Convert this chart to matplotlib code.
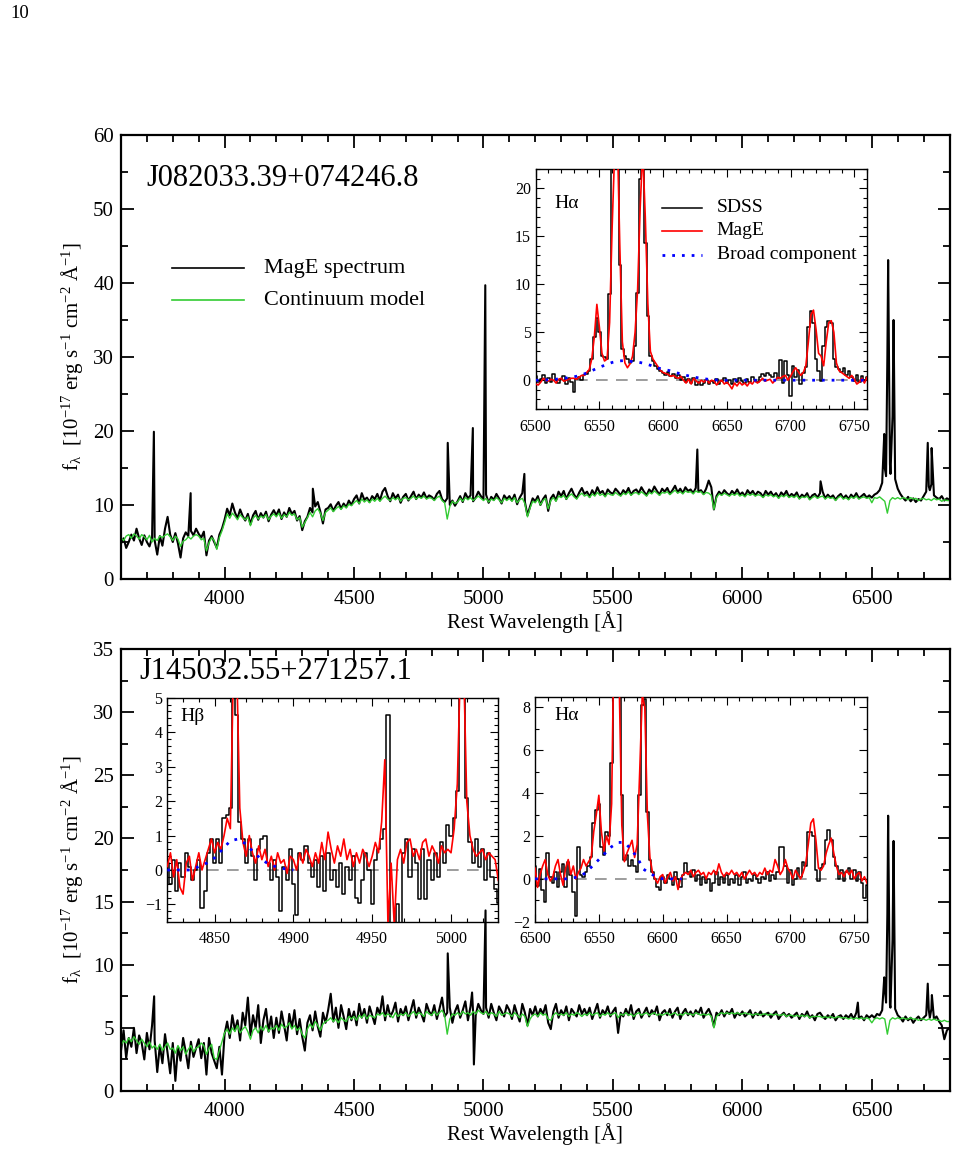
import numpy as np
import matplotlib
matplotlib.use("Agg")
import matplotlib.pyplot as plt
from matplotlib.ticker import MultipleLocator

plt.rcParams['font.family'] = ['Liberation Serif', 'DejaVu Serif']
plt.rcParams['mathtext.fontset'] = 'custom'
plt.rcParams['mathtext.rm'] = 'Liberation Serif'
plt.rcParams['mathtext.it'] = 'Liberation Serif:italic'

# ---------------- DATA ----------------
# main spectra: 10 A grid from 3600 to 6800 A
main_start, main_end, main_step = 3600, 6800, 10

top_name = "J082033.39+074246.8"
bot_name = "J145032.55+271257.1"

top_flux = [
 4.8, 5.5, 4.2, 5.0, 6.0, 5.2, 6.8, 5.5, 4.6, 5.9,
 5.0, 4.4, 5.6, 5.2, 3.3, 5.8, 4.5, 6.8, 8.4, 6.0,
 5.0, 6.2, 4.8, 2.9, 5.5, 6.3, 5.8, 6.5, 5.9, 6.8,
 6.1, 5.6, 6.4, 3.2, 5.2, 5.8, 5.0, 4.2, 6.0, 6.8,
 8.0, 9.5, 8.6, 10.2, 9.0, 8.2, 9.4, 8.5, 7.9, 8.8,
 7.4, 8.6, 9.2, 8.0, 8.9, 8.3, 9.1, 7.8, 8.7, 9.3,
 8.6, 9.4, 8.1, 9.0, 8.4, 9.6, 8.8, 9.2, 7.9, 8.5,
 6.6, 7.8, 8.4, 9.6, 9.0, 9.8, 10.4, 9.1, 7.5, 9.4,
 9.6, 10.1, 9.2, 9.9, 10.4, 9.5, 10.2, 9.7, 10.6, 10.0,
 10.8, 11.3, 10.2, 11.6, 10.7, 11.0, 10.4, 11.2, 10.8, 11.5,
 10.6, 11.8, 12.3, 11.2, 10.5, 11.6, 10.9, 11.4, 10.3, 11.1,
 11.5, 10.6, 11.2, 11.8, 10.8, 11.4, 11.0, 11.7, 10.9, 11.3,
 11.1, 10.7, 11.5, 11.9, 10.8, 10.4, 10.9, 10.0, 10.6, 9.9,
 10.5, 11.2, 10.4, 11.6, 10.9, 11.3, 10.5, 11.0, 11.8, 11.2,
 10.8, 11.4, 10.3, 11.1, 10.7, 11.5, 10.9, 10.2, 11.3, 10.8,
 11.2, 10.6, 11.4, 10.1, 11.0, 11.6, 10.4, 8.6, 9.8, 10.9,
 10.5, 11.2, 10.0, 10.8, 11.3, 9.2, 10.9, 11.4, 10.6, 11.8,
 11.2, 11.9, 10.8, 11.6, 12.2, 11.4, 10.9, 11.7, 12.3, 11.5,
 11.8, 11.1, 12.0, 11.4, 12.4, 11.6, 11.9, 11.2, 12.1, 11.7,
 11.5, 12.2, 11.8, 11.3, 12.0, 11.6, 12.3, 11.4, 11.9, 12.1,
 11.6, 12.4, 11.8, 11.3, 12.1, 11.7, 12.5, 11.9, 11.4, 12.2,
 11.8, 12.3, 11.5, 12.0, 12.6, 11.7, 12.2, 11.6, 12.4, 11.9,
 12.1, 11.6, 12.3, 11.8, 12.0, 11.5, 12.2, 13.3, 12.4, 9.4,
 11.2, 11.8, 11.4, 12.0, 11.6, 11.3, 11.9, 11.5, 12.1, 11.4,
 11.7, 11.2, 12.0, 11.5, 11.9, 11.3, 11.8, 11.6, 11.1, 11.9,
 11.4, 11.8, 11.2, 11.6, 11.0, 11.7, 11.3, 11.9, 11.1, 11.5,
 11.2, 11.7, 10.9, 11.4, 11.1, 11.6, 10.8, 11.3, 11.5, 11.0,
 11.6, 11.8, 10.9, 11.4, 11.0, 11.3, 10.7, 11.2, 11.5, 10.9,
 11.3, 10.8, 11.4, 11.0, 11.6, 10.9, 11.2, 11.5, 11.0, 11.3,
 11.0, 11.4, 11.6, 12.0, 13.0, 15.0, 30.0, 15.5, 22.0, 13.5,
 12.2, 11.5, 11.0, 10.6, 11.1, 10.5, 10.9, 10.4, 10.8, 10.6,
 11.2, 11.8, 12.5, 12.8, 11.3, 11.0, 10.8, 11.2, 10.6, 10.9,
 10.7]
top_line_wave = [3727, 3869, 4341, 4862, 4959, 5007, 5158, 5826, 6302,
                 6548, 6555, 6563, 6572, 6584, 6716, 6724, 6731]
top_line_flux = [19.9, 11.6, 12.2, 18.4, 20.4, 39.7, 14.2, 17.5, 13.2,
                 19.6, 13.9, 43.1, 14.2, 35.0, 18.4, 12.0, 17.7]

top_model = [
 5.6, 5.2, 5.8, 6.0, 5.5, 6.1, 5.8, 5.4, 6.0, 5.7,
 5.3, 5.9, 5.0, 5.5, 5.2, 5.8, 5.6, 5.9, 6.1, 5.7,
 5.2, 5.8, 5.4, 4.4, 5.1, 5.3, 5.7, 5.4, 5.8, 6.0,
 5.8, 5.3, 5.5, 3.8, 4.9, 5.6, 5.2, 4.0, 5.6, 6.5,
 7.6, 8.8, 8.2, 8.9, 8.5, 8.0, 8.7, 8.3, 8.0, 8.4,
 7.2, 8.2, 8.6, 8.1, 8.5, 8.3, 8.7, 8.0, 8.5, 8.8,
 8.4, 8.9, 8.2, 8.7, 8.4, 9.0, 8.6, 8.8, 8.0, 8.3,
 7.0, 7.6, 8.3, 9.0, 8.4, 9.2, 9.5, 8.9, 7.9, 9.0,
 9.3, 9.6, 9.1, 9.5, 9.8, 9.4, 9.9, 9.6, 10.1, 9.9,
 10.3, 10.6, 10.2, 10.8, 10.4, 10.7, 10.3, 10.8, 10.5, 10.9,
 10.5, 10.9, 11.2, 10.8, 10.6, 11.0, 10.7, 11.0, 10.5, 10.9,
 11.0, 10.7, 10.9, 11.2, 10.8, 11.1, 10.9, 11.2, 10.8, 11.0,
 10.9, 10.6, 11.0, 11.2, 10.6, 10.3, 8.1, 9.8, 10.5, 10.2,
 10.4, 10.9, 10.5, 11.0, 10.7, 11.0, 10.6, 10.9, 11.2, 10.9,
 10.6, 10.9, 10.4, 10.8, 10.6, 11.0, 10.7, 10.3, 10.9, 10.6,
 10.9, 10.5, 11.0, 10.3, 10.7, 10.9, 10.2, 8.4, 9.6, 10.5,
 10.3, 10.8, 10.0, 10.6, 10.9, 9.5, 10.6, 11.0, 10.5, 11.2,
 11.0, 11.3, 10.8, 11.2, 11.5, 11.1, 10.8, 11.3, 11.6, 11.2,
 11.4, 11.0, 11.5, 11.2, 11.7, 11.3, 11.5, 11.1, 11.6, 11.4,
 11.3, 11.7, 11.4, 11.2, 11.6, 11.4, 11.8, 11.3, 11.6, 11.7,
 11.4, 11.8, 11.5, 11.2, 11.7, 11.5, 11.9, 11.6, 11.3, 11.7,
 11.6, 11.8, 11.4, 11.7, 12.0, 11.6, 11.8, 11.5, 11.9, 11.7,
 11.8, 11.5, 11.9, 11.7, 11.8, 11.4, 11.7, 11.6, 11.3, 9.4,
 11.0, 11.5, 11.3, 11.6, 11.4, 11.2, 11.5, 11.3, 11.6, 11.2,
 11.4, 11.1, 11.5, 11.3, 11.5, 11.2, 11.4, 11.3, 11.0, 11.4,
 11.2, 11.4, 11.1, 11.3, 10.9, 11.3, 11.1, 11.4, 11.0, 11.2,
 11.0, 11.3, 10.8, 11.1, 11.0, 11.2, 10.7, 11.0, 11.2, 10.9,
 11.1, 11.2, 10.8, 11.1, 10.9, 11.0, 10.6, 11.0, 11.2, 10.8,
 11.0, 10.7, 11.1, 10.9, 11.2, 10.8, 11.0, 11.1, 10.9, 11.0,
 10.3, 11.0, 10.9, 11.1, 10.8, 10.5, 8.9, 10.6, 11.0, 10.8,
 11.0, 10.8, 11.0, 10.9, 10.7, 11.0, 10.8, 10.9, 10.6, 10.8,
 10.9, 10.7, 10.8, 10.6, 10.9, 10.7, 10.8, 10.5, 10.7, 10.6,
 10.6]

bot_flux = [
 3.2, 4.8, 2.6, 4.2, 3.5, 5.0, 3.0, 4.4, 3.8, 2.5,
 4.6, 3.3, 5.2, 4.0, 1.5, 3.6, 2.2, 4.5, 3.0, 1.4,
 3.8, 0.8, 3.5, 2.4, 4.2, 3.1, 1.8, 3.9, 2.7, 3.4,
 4.1, 2.6, 3.8, 1.3, 4.2, 3.0, 2.4, 1.8, 3.5, 1.3,
 4.5, 5.5, 4.2, 6.0, 4.8, 5.6, 4.0, 6.2, 5.2, 7.4,
 4.4, 6.0, 5.0, 6.8, 3.8, 5.6, 6.5, 4.7, 5.9, 4.2,
 5.8, 4.6, 6.3, 5.2, 4.0, 6.1, 5.0, 6.4, 4.5, 5.7,
 4.3, 3.2, 5.4, 6.0, 4.8, 6.3, 5.1, 4.3, 6.2, 5.4,
 6.4, 7.7, 5.5, 6.6, 5.0, 6.8, 5.9, 4.9, 6.5, 5.6,
 6.3, 5.2, 6.9, 5.8, 6.5, 5.4, 6.7, 6.0, 5.3, 6.6,
 6.1, 7.5, 5.6, 6.8, 5.9, 6.3, 7.0, 5.5, 6.5, 6.0,
 6.7, 5.6, 6.4, 7.2, 5.8, 6.6, 6.1, 5.5, 6.9, 6.3,
 6.0, 6.8, 5.7, 6.5, 7.4, 5.9, 6.2, 6.6, 5.4, 6.3,
 6.8, 5.8, 6.4, 7.1, 5.6, 6.7, 6.2, 6.0, 6.9, 6.4,
 6.1, 6.6, 5.8, 6.9, 6.2, 5.6, 6.7, 6.3, 5.9, 6.8,
 6.4, 5.7, 6.8, 6.1, 5.5, 6.9, 6.2, 5.2, 6.5, 6.0,
 6.7, 5.9, 6.5, 6.1, 6.8, 5.4, 4.9, 6.3, 6.9, 5.8,
 6.4, 6.0, 6.7, 5.6, 6.5, 6.2, 5.9, 6.8, 6.1, 6.5,
 6.0, 6.6, 5.7, 6.3, 6.9, 5.8, 6.4, 6.1, 6.7, 5.9,
 6.3, 6.6, 4.6, 6.2, 5.9, 6.5, 6.0, 6.8, 5.7, 6.3,
 6.5, 5.8, 6.2, 6.6, 5.9, 6.4, 6.1, 6.7, 5.6, 6.2,
 6.4, 6.0, 6.5, 5.8, 6.3, 6.6, 5.7, 6.2, 6.5, 6.0,
 6.3, 5.9, 6.4, 6.1, 6.6, 5.8, 6.2, 6.5, 6.0, 5.1,
 6.2, 6.0, 6.4, 5.9, 6.3, 6.1, 6.5, 5.8, 6.2, 6.0,
 6.3, 5.9, 6.1, 6.4, 5.8, 6.2, 6.0, 6.3, 5.9, 6.1,
 6.2, 5.8, 6.1, 6.3, 5.7, 6.0, 6.2, 5.9, 6.1, 5.8,
 6.0, 6.2, 5.7, 6.1, 5.9, 6.3, 5.8, 6.0, 5.6, 6.1,
 6.2, 5.9, 5.7, 6.0, 5.8, 6.1, 5.6, 5.9, 6.0, 5.7,
 6.0, 5.8, 6.1, 5.7, 6.2, 5.8, 5.9, 5.6, 6.0, 5.8,
 6.0, 5.8, 6.1, 6.0, 6.4, 8.2, 14.0, 6.8, 12.0, 6.5,
 6.0, 5.8, 5.5, 5.9, 5.6, 5.8, 5.4, 5.7, 5.9, 5.6,
 5.8, 6.0, 6.4, 6.5, 5.7, 5.9, 5.5, 5.2, 4.1, 4.8,
 5.0]
bot_line_wave = [3728, 4862, 4956, 4963, 5008, 6446,
                 6548, 6555, 6563, 6572, 6584, 6716, 6724, 6732]
bot_line_flux = [7.5, 10.9, 7.8, 2.1, 14.3, 7.0,
                 9.0, 7.0, 21.8, 6.6, 19.8, 8.5, 5.8, 7.6]

bot_model = [
 3.6, 4.0, 3.8, 4.2, 3.9, 4.3, 4.0, 3.7, 4.1, 3.8,
 3.5, 3.9, 3.4, 3.6, 3.3, 3.7, 3.2, 3.5, 3.8, 3.3,
 3.4, 3.0, 3.6, 3.2, 3.5, 2.9, 3.3, 3.6, 3.1, 3.4,
 3.5, 3.8, 3.6, 2.9, 3.4, 3.7, 2.6, 2.5, 3.2, 3.9,
 4.6, 4.9, 4.5, 5.0, 4.7, 5.2, 4.6, 4.9, 5.1, 4.7,
 4.1, 4.8, 5.0, 4.6, 5.1, 4.8, 5.2, 4.7, 5.0, 4.9,
 5.2, 4.8, 5.3, 5.0, 5.1, 5.4, 4.9, 5.2, 4.8, 5.0,
 4.5, 4.2, 4.9, 5.3, 5.0, 5.5, 5.2, 4.8, 5.3, 5.5,
 5.6, 5.8, 5.5, 5.7, 5.4, 5.8, 5.6, 5.5, 5.9, 5.7,
 5.9, 5.6, 6.0, 5.8, 6.1, 5.7, 6.0, 5.9, 5.8, 6.1,
 6.0, 6.2, 5.9, 6.1, 6.0, 5.8, 6.2, 5.9, 6.1, 6.0,
 6.2, 5.9, 6.1, 6.3, 6.0, 6.2, 6.1, 5.9, 6.3, 6.1,
 6.0, 6.3, 6.0, 6.2, 6.4, 6.0, 4.5, 5.7, 6.1, 6.0,
 6.2, 6.0, 6.3, 6.1, 6.2, 6.0, 6.3, 6.1, 6.4, 6.2,
 6.1, 6.3, 6.0, 6.2, 6.1, 5.9, 6.3, 6.0, 6.1, 6.2,
 6.1, 5.9, 6.2, 6.0, 5.8, 6.1, 5.9, 5.1, 5.7, 6.0,
 6.1, 5.9, 6.2, 6.0, 6.1, 5.7, 5.6, 6.0, 6.2, 6.0,
 6.1, 6.0, 6.2, 5.9, 6.1, 6.0, 6.2, 6.1, 5.9, 6.1,
 6.0, 6.2, 6.0, 6.1, 6.2, 5.9, 6.1, 6.0, 6.2, 6.0,
 6.1, 6.2, 5.8, 6.1, 6.0, 6.2, 6.0, 6.1, 5.9, 6.1,
 6.2, 6.0, 6.1, 6.2, 6.0, 6.1, 6.2, 6.0, 6.1, 6.0,
 6.1, 6.2, 6.0, 6.1, 6.2, 6.0, 6.1, 6.0, 6.2, 6.1,
 6.1, 6.0, 6.2, 6.1, 6.0, 6.1, 6.0, 6.1, 5.9, 5.0,
 5.9, 6.1, 6.2, 6.1, 6.2, 6.1, 6.2, 6.1, 6.2, 6.1,
 6.1, 6.2, 6.1, 6.1, 6.0, 6.1, 6.1, 6.0, 6.1, 6.1,
 6.0, 6.1, 6.0, 6.1, 6.0, 6.0, 6.1, 5.9, 6.0, 6.0,
 5.9, 6.0, 5.9, 6.0, 5.9, 6.0, 5.8, 5.9, 5.9, 5.9,
 5.9, 5.8, 5.9, 5.8, 5.9, 5.8, 5.8, 5.9, 5.8, 5.8,
 5.8, 5.7, 5.8, 5.7, 5.8, 5.7, 5.8, 5.7, 5.8, 5.7,
 5.4, 5.7, 5.8, 5.7, 5.8, 5.7, 4.5, 5.6, 5.8, 5.7,
 5.8, 5.7, 5.8, 5.7, 5.7, 5.8, 5.7, 5.7, 5.6, 5.7,
 5.7, 5.6, 5.7, 5.6, 5.7, 5.6, 5.6, 5.5, 5.6, 5.5,
 5.5]

# insets: 2 A grids
ha_start, ha_end, ha_step = 6500, 6760, 2
hb_start, hb_end, hb_step = 4820, 5030, 2

top_ha_sdss = [
 0.4, -0.2, 0.1, 0.5, -0.3, 0.2, -0.2, 0.6, 0.0, -0.3,
 0.1, 0.4, -0.4, 0.2, -0.2, -1.2, 0.1, 0.3, 0.0, 0.5,
 0.6, 1.0, 2.2, 4.5, 6.5, 5.0, 2.5, 2.4, 2.2, 9.0,
 22.0, 30.0, 30.0, 12.0, 3.2, 2.5, 2.2, 1.8, 2.0, 3.6,
 9.1, 21.0, 30.0, 14.3, 6.7, 2.5, 2.0, 1.5, 1.2, 1.0,
 0.7, 0.5, 0.9, 0.4, 0.6, 0.2, 0.5, 0.0, 0.3, -0.2,
 0.1, -0.3, 0.2, -0.5, -0.2, -0.5, -0.3, 0.0, -0.4, -0.1,
 -0.3, 0.1, -0.4, -0.1, 0.2, -0.3, 0.0, -0.4, 0.1, -0.2,
 0.2, -0.1, -0.3, 0.1, -0.2, 0.3, 0.0, -0.2, 0.3, 0.6,
 0.4, 0.8, 0.5, 0.3, 0.7, 0.2, 2.1, -0.3, 2.0, 0.5,
 -1.6, 1.5, 0.3, 1.1, -0.4, 0.8, 1.4, 5.5, 7.2, 6.0,
 2.2, 1.0, -0.1, 3.6, 5.5, 6.2, 6.0, 2.2, 1.4, 1.2,
 0.9, 1.3, 0.5, 1.0, 0.3, -0.1, 0.5, -0.2, 0.4, 0.0,
 0.3]
top_ha_mage = [
 -0.4, -0.5, -0.2, 0.2, 0.0, -0.1, 0.1, 0.0, -0.3, 0.1,
 0.2, -0.1, 0.0, 0.1, 0.2, 0.2, 0.1, 0.3, 0.5, 0.5,
 0.8, 1.1, 2.2, 4.5, 7.9, 5.5, 2.8, 2.0, 2.2, 6.0,
 16.0, 24.0, 26.0, 14.0, 4.0, 1.8, 1.3, 1.7, 2.5, 5.0,
 9.5, 18.0, 24.0, 17.0, 8.0, 3.0, 2.2, 1.8, 1.4, 1.0,
 0.8, 0.7, 0.6, 0.4, 0.5, 0.3, 0.2, 0.4, 0.0, -0.3,
 0.1, -0.4, 0.2, -0.1, -0.3, 0.0, -0.2, 0.1, -0.3, 0.0,
 -0.1, -0.5, -0.2, 0.0, -0.4, -0.2, -0.5, -0.9, -0.3, -0.6,
 -0.2, -0.5, -0.3, -0.6, -0.2, -0.4, 0.0, -0.3, -0.1, 0.2,
 -0.1, 0.0, 0.1, -0.3, 0.0, 0.3, 0.2, 0.4, 0.5, 0.0,
 0.4, 0.9, 1.3, 0.9, 0.5, 0.8, 1.5, 4.0, 6.8, 7.3,
 5.3, 2.8, 2.5, 1.5, 4.0, 6.0, 6.2, 5.0, 1.8, 1.0,
 0.8, 0.6, 0.4, 0.2, 0.5, 0.1, -0.4, -0.2, 0.2, -0.3,
 0.3]
# broad components: 5 A grids
top_broad = [
 0.0, 0.0, 0.05, 0.1, 0.15, 0.25, 0.35, 0.5, 0.75, 1.05,
 1.35, 1.6, 1.85, 2.0, 2.05, 1.95, 1.9, 1.75, 1.55, 1.3,
 1.15, 1.0, 0.8, 0.6, 0.45, 0.3, 0.2, 0.1, 0.05, 0.0,
 0.0, 0.0, 0.0, 0.0, 0.0, 0.0, 0.0, 0.0, 0.0, 0.0,
 0.0, 0.0, 0.0, 0.0, 0.0, 0.0, 0.0, 0.0, 0.0, 0.0,
 0.0, 0.0, 0.0]

hb_sdss = [
 0.2, -0.4, 0.3, -0.6, 0.2, -0.2, 0.5, 0.1, -0.3, 0.0,
 0.3, -1.1, -0.6, 0.5, 0.9, 0.2, 0.9, 0.2, 1.5, 1.6,
 1.8, 6.0, 4.5, 1.4, 0.9, 0.2, 0.9, 0.4, -0.3, 0.6,
 0.9, 1.0, 0.2, -0.3, 0.3, -0.2, -1.2, 0.1, -0.3, 0.6,
 -0.4, -1.3, 0.5, 0.3, 0.7, 0.2, -0.2, 0.3, -0.5, 0.4,
 -0.6, 0.5, -0.3, 0.0, -0.5, 0.2, -0.7, 0.1, -0.3, 0.4,
 -0.8, -0.95, -0.3, 0.5, 0.0, -1.0, 0.3, 0.6, 0.9, 1.2,
 4.5, -1.6, -1.6, -1.0, -1.6, 0.5, 0.9, -0.2, 0.6, 0.2,
 -0.85, 0.6, -0.85, 0.3, -0.3, 0.5, -0.2, 0.8, 0.2, 1.3,
 1.0, 1.5, 2.3, 6.0, 6.0, 2.1, 0.8, 0.2, 0.9, 0.1,
 0.6, -0.3, 0.5, -0.2, -0.55, -0.95]
hb_mage = [
 0.1, 0.5, -0.2, 0.3, -0.5, -0.7, 0.2, 0.4, -0.3, 0.1,
 0.5, 0.0, 0.3, 0.6, 0.9, 0.5, 0.8, 0.6, 1.0, 1.5,
 1.2, 6.0, 6.0, 1.8, 0.8, 0.4, 1.0, 0.5, 0.2, 0.7,
 0.3, 0.6, 0.1, 0.4, 0.0, 0.5, 0.2, 0.3, -0.1, 0.4,
 0.3, 0.0, 0.5, 0.2, 0.6, 0.4, 0.1, 0.5, 0.2, 0.8,
 0.3, 1.1, 0.6, 0.2, 0.7, 0.4, 0.9, 0.3, 0.6, 0.1,
 0.5, 0.2, 0.6, 0.4, 0.1, 0.4, 0.8, 0.5, 1.4, 3.2,
 -1.6, 0.2, -1.6, 0.3, 0.6, 0.2, 0.8, 0.9, 0.4, 0.6,
 0.3, 0.8, 0.9, 0.4, 0.7, 0.5, 0.2, 0.7, 0.5, 0.6,
 0.5, 1.2, 2.5, 6.0, 6.0, 2.0, 1.0, 0.6, 0.4, 0.5,
 0.6, 0.3, 0.5, 0.4, 0.3, -0.3]
hb_broad = [0.0, 0.0, 0.0, 0.0, 0.1, 0.2, 0.35, 0.6, 0.85, 0.9,
            0.75, 0.5, 0.3, 0.15, 0.08, 0.03, 0.0]

bot_ha_sdss = [
 0.6, -0.35, 0.45, -0.5, -1.1, 1.2, 0.1, -0.2, 0.3, -0.4,
 0.3, 0.7, -0.4, 0.8, 0.2, -0.6, -1.75, 1.5, 0.2, 0.1,
 0.3, 0.6, 1.0, 2.6, 3.2, 3.5, 1.5, 1.1, 2.2, 2.0,
 5.4, 12.0, 12.0, 12.0, 3.9, 0.9, 1.1, 0.6, 0.9, 0.6,
 0.3, 3.9, 8.1, 8.4, 3.1, 0.9, 0.3, 0.0, -0.4, -0.5,
 0.1, -0.2, 0.2, 0.0, -0.3, 0.3, 0.0, -0.4, 0.2, 0.75,
 0.3, 0.1, 0.4, -0.1, 0.2, -0.3, 0.1, -0.2, 0.0, -0.55,
 -0.2, 0.3, -0.3, 0.1, -0.2, 0.2, -0.3, 0.0, -0.2, 0.2,
 -0.3, 0.1, 0.3, -0.2, 0.0, -0.1, 0.2, 0.0, -0.2, 0.1,
 0.0, 0.3, -0.1, 0.2, 0.0, 0.3, 1.5, 1.5, 0.6, -0.2,
 0.4, -0.3, 0.0, 0.5, 0.1, 0.8, 0.6, 2.2, 2.2, 2.0,
 0.4, -0.1, 0.5, 0.7, 1.8, 2.3, 1.8, 1.0, 0.6, 0.0,
 0.4, -0.1, 0.3, 0.5, 0.0, 0.4, -0.1, 0.3, -0.2, -0.9,
 -0.3]
bot_ha_mage = [
 0.5, -0.4, 0.2, 0.6, 0.9, 0.2, -0.1, 0.1, 0.6, 0.9,
 0.2, -0.3, 0.5, 0.9, 0.2, 0.6, 0.0, 0.3, 0.5, 0.9,
 0.6, 0.8, 1.0, 2.2, 3.0, 3.9, 2.2, 1.3, 2.0, 1.6,
 3.5, 12.0, 12.0, 9.0, 2.5, 0.8, 1.2, 1.5, 1.8, 1.0,
 1.6, 5.0, 8.6, 8.0, 3.0, 1.0, 0.3, 0.0, -0.2, 0.1,
 0.2, -0.2, 0.1, 0.3, -0.1, 0.1, -0.5, 0.0, 0.2, 0.3,
 0.2, 0.4, 0.1, 0.3, 0.4, 0.2, 0.3, 0.0, 0.3, 0.2,
 0.4, 0.2, 0.7, 0.3, 0.1, 0.3, 0.2, 0.4, 0.2, 0.3,
 0.1, 0.3, 0.0, 0.2, 0.4, 0.2, 0.3, 0.1, 0.3, 0.2,
 0.5, 0.2, 0.4, 0.3, 0.9, 0.6, 0.2, 0.4, 0.9, 0.5,
 0.3, 0.0, 0.4, 0.2, 0.0, 0.3, 0.7, 1.6, 2.6, 2.8,
 1.8, 0.5, 0.4, 0.6, 1.2, 1.6, 1.9, 1.2, 0.6, 0.2,
 0.3, 0.1, 0.4, 0.2, 0.4, 0.0, 0.2, 0.3, -0.1, 0.1,
 -0.2]
bot_broad = [0.0, 0.0, 0.0, 0.0, 0.0, 0.0, 0.05, 0.1, 0.3, 0.6,
             0.9, 1.2, 1.5, 1.7, 1.7, 1.4, 1.0, 0.45, 0.25, 0.1,
             0.0, 0.0, 0.0, 0.0]

# ---------------- STYLE ----------------
BLACK = 'black'
GREEN = '#33cc33'
RED = '#ff0000'
BLUE = '#0000ff'
GRAY = '#8c8c8c'

W, H = 957, 1172
fig = plt.figure(figsize=(W / 100, H / 100), dpi=100)


def frac(x0, y0, x1, y1):
    return [x0 / W, 1 - y1 / H, (x1 - x0) / W, (y1 - y0) / H]


def style_axes(ax, major_len, minor_len, lw, fs, pad_x, pad_y):
    for s in ax.spines.values():
        s.set_linewidth(lw)
    ax.tick_params(which='both', direction='in', top=True, right=True,
                   labelsize=fs, width=lw * 0.8)
    ax.tick_params(which='major', length=major_len)
    ax.tick_params(which='minor', length=minor_len)
    ax.tick_params(axis='x', pad=pad_x)
    ax.tick_params(axis='y', pad=pad_y)


def merged(start, end, step, flux, lw_, lf_):
    w = np.arange(start, end + step / 2, step)
    ww = np.concatenate([w, np.array(lw_, float)])
    ff = np.concatenate([np.array(flux, float), np.array(lf_, float)])
    o = np.argsort(ww, kind='stable')
    return ww[o], ff[o]


main_wave = np.arange(main_start, main_end + 1, main_step)
ylabel = (r'f$_{\mathrm{λ}}$  [10$^{-17}$ erg s$^{-1}$ cm$^{-2}$ '
          r'$\mathrm{Å}^{-1}$]')

# ---------------- TOP MAIN ----------------
ax1 = fig.add_axes(frac(121, 135, 949.5, 579))
w, f = merged(main_start, main_end, main_step, top_flux, top_line_wave, top_line_flux)
ax1.plot(w, f, color=BLACK, lw=1.5)
ax1.plot(main_wave, top_model, color=GREEN, lw=1.0)
ax1.set_xlim(3600, 6800)
ax1.set_ylim(0, 60)
ax1.xaxis.set_major_locator(MultipleLocator(500))
ax1.xaxis.set_minor_locator(MultipleLocator(100))
ax1.yaxis.set_major_locator(MultipleLocator(10))
ax1.yaxis.set_minor_locator(MultipleLocator(5))
style_axes(ax1, 9, 5, 1.6, 15, 8, 5)
ax1.set_xlabel('Rest Wavelength [Å]', fontsize=15)
ax1.xaxis.set_label_coords(0.5, -0.072)
ax1.set_ylabel(ylabel, fontsize=15)
ax1.yaxis.set_label_coords(-0.043, 0.5)
ax1.text(0.031, 0.903, top_name, transform=ax1.transAxes, fontsize=22,
         va='center', ha='left')
# legend
ax1.plot([0.0616, 0.1486], [0.700, 0.700], transform=ax1.transAxes, color=BLACK, lw=1.2)
ax1.plot([0.0616, 0.1486], [0.628, 0.628], transform=ax1.transAxes, color=GREEN, lw=1.2)
ax1.text(0.1727, 0.700, 'MagE spectrum', transform=ax1.transAxes, fontsize=16, va='center')
ax1.text(0.1727, 0.628, 'Continuum model', transform=ax1.transAxes, fontsize=16, va='center')

# ---------------- BOTTOM MAIN ----------------
ax2 = fig.add_axes(frac(121, 649, 949.5, 1091))
w, f = merged(main_start, main_end, main_step, bot_flux, bot_line_wave, bot_line_flux)
ax2.plot(w, f, color=BLACK, lw=1.5)
ax2.plot(main_wave, bot_model, color=GREEN, lw=1.0)
ax2.set_xlim(3600, 6800)
ax2.set_ylim(0, 35)
ax2.xaxis.set_major_locator(MultipleLocator(500))
ax2.xaxis.set_minor_locator(MultipleLocator(100))
ax2.yaxis.set_major_locator(MultipleLocator(5))
ax2.yaxis.set_minor_locator(MultipleLocator(2.5))
style_axes(ax2, 9, 5, 1.6, 15, 8, 5)
ax2.set_xlabel('Rest Wavelength [Å]', fontsize=15)
ax2.xaxis.set_label_coords(0.5, -0.072)
ax2.set_ylabel(ylabel, fontsize=15)
ax2.yaxis.set_label_coords(-0.043, 0.5)
ax2.text(0.0217, 0.948, bot_name, transform=ax2.transAxes, fontsize=22,
         va='center', ha='left')


def draw_inset(rect, sdss, mage, wstart, wend, wstep, broad, bstart, ylim,
               ymaj, ymin, xlim):
    ax = fig.add_axes(rect)
    ax.set_facecolor('none')
    wl = np.arange(wstart, wend + wstep / 2, wstep)
    ax.axhline(0, color=GRAY, lw=1.2, ls=(0, (7, 5)), zorder=1)
    ax.plot(wl, sdss, color=BLACK, lw=1.1, drawstyle='steps-mid', zorder=2)
    ax.plot(wl, mage, color=RED, lw=1.2, zorder=3)
    bw = np.arange(bstart, bstart + 5 * len(broad) - 1, 5)
    ax.plot(bw, broad, color=BLUE, lw=2.0, ls=(0, (1, 2.5)), zorder=4)
    ax.set_xlim(*xlim)
    ax.set_ylim(*ylim)
    ax.xaxis.set_major_locator(MultipleLocator(50))
    ax.xaxis.set_minor_locator(MultipleLocator(10))
    ax.yaxis.set_major_locator(MultipleLocator(ymaj))
    ax.yaxis.set_minor_locator(MultipleLocator(ymin))
    style_axes(ax, 6, 3, 1.0, 11.5, 7, 3.5)
    return ax


ax3 = draw_inset(frac(535.7, 169, 867, 409), top_ha_sdss, top_ha_mage,
                 ha_start, ha_end, ha_step, top_broad, 6500, (-3, 22), 5, 1, (6500, 6760))
ax3.text(0.055, 0.858, 'Hα', transform=ax3.transAxes, fontsize=14, va='center')
ax3.plot([0.381, 0.502], [0.839, 0.839], transform=ax3.transAxes, color=BLACK, lw=1.1)
ax3.plot([0.381, 0.502], [0.742, 0.742], transform=ax3.transAxes, color=RED, lw=1.2)
ax3.plot([0.381, 0.502], [0.642, 0.642], transform=ax3.transAxes, color=BLUE, lw=2.0,
         ls=(0, (1, 2.5)))
ax3.text(0.546, 0.839, 'SDSS', transform=ax3.transAxes, fontsize=14, va='center')
ax3.text(0.546, 0.742, 'MagE', transform=ax3.transAxes, fontsize=14, va='center')
ax3.text(0.546, 0.642, 'Broad component', transform=ax3.transAxes, fontsize=14, va='center')

ax4 = draw_inset(frac(167.3, 697.7, 498.3, 921.7), hb_sdss, hb_mage,
                 hb_start, hb_end, hb_step, hb_broad, 4820, (-1.5, 5), 1, 0.2, (4820, 5030))
ax4.text(0.04, 0.915, 'Hβ', transform=ax4.transAxes, fontsize=14, va='center')

ax5 = draw_inset(frac(535, 696.7, 867, 921.7), bot_ha_sdss, bot_ha_mage,
                 ha_start, ha_end, ha_step, bot_broad, 6500, (-2, 8.5), 2, 1, (6500, 6760))
ax5.text(0.057, 0.915, 'Hα', transform=ax5.transAxes, fontsize=14, va='center')

fig.text(10 / W, 1 - 14 / H, '10', fontsize=13.5, va='center', ha='left')

fig.savefig('out.png', dpi=100)
